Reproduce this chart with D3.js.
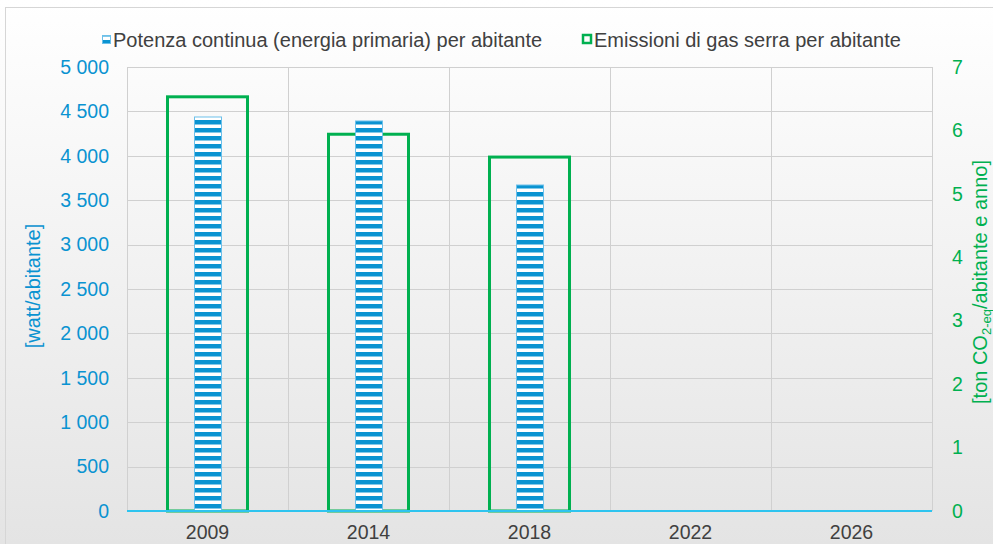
<!DOCTYPE html>
<html lang="it">
<head>
<meta charset="UTF-8">
<title>Potenza ed emissioni per abitante</title>
<script src="https://d3js.org/d3.v7.min.js"></script>
<style>
    body { margin: 0; background: #fff; }
    svg { display: block; font-family: "Liberation Sans", Arial, sans-serif; }
</style>
</head>
<body>
<script>
var years = ["2009", "2014", "2018", "2022", "2026"];
var potenza = [4437, 4392, 3671, null, null];      // watt/abitante
var emissioni = [6.53, 5.94, 5.58, null, null];     // ton CO2eq/abitante e anno
var leftTicks = [0, 500, 1000, 1500, 2000, 2500, 3000, 3500, 4000, 4500, 5000];
var rightTicks = [0, 1, 2, 3, 4, 5, 6, 7];

var w = 993, h = 544;
var m = { top: 67, right: 61, bottom: 33, left: 127 };
var blue = "#0a93d1", green = "#00b050";
var fs = 19.5;

var svg = d3.select("body").append("svg")
    .attr("width", w)
    .attr("height", h);

var defs = svg.append("defs");
var grad = defs.append("linearGradient")
    .attr("id", "bg").attr("x1", 0).attr("y1", 0).attr("x2", 0).attr("y2", 1);
grad.append("stop").attr("offset", "0%").attr("stop-color", "#ffffff");
grad.append("stop").attr("offset", "100%").attr("stop-color", "#e4e4e4");

var pat = defs.append("pattern")
    .attr("id", "stripes")
    .attr("patternUnits", "userSpaceOnUse")
    .attr("width", 8).attr("height", 8);
pat.append("rect").attr("width", 8).attr("height", 8).attr("fill", "#ffffff");
pat.append("rect").attr("y", 0).attr("width", 8).attr("height", 4.5).attr("fill", blue);

// background + chart border
svg.append("rect").attr("width", w).attr("height", h).attr("fill", "url(#bg)");
svg.append("rect")
    .attr("x", 5.5).attr("y", 7.5)
    .attr("width", w).attr("height", h)
    .attr("fill", "none").attr("stroke", "#d6d6d6");

var x = d3.scaleBand()
    .domain(years)
    .range([m.left, w - m.right]);

var yL = d3.scaleLinear().domain([0, 5000]).range([h - m.bottom, m.top]);
var yR = d3.scaleLinear().domain([0, 7]).range([h - m.bottom, m.top]);

// gridlines
svg.append("g")
    .selectAll("line")
    .data(leftTicks.slice(1))
    .enter().append("line")
    .attr("x1", m.left).attr("x2", w - m.right)
    .attr("y1", function(d) { return Math.round(yL(d)) + 0.5; })
    .attr("y2", function(d) { return Math.round(yL(d)) + 0.5; })
    .attr("stroke", "#d0d0d0");

var vlines = [m.left].concat(years.map(function(d) { return x(d) + x.bandwidth(); }));
svg.append("g")
    .selectAll("line")
    .data(vlines)
    .enter().append("line")
    .attr("x1", function(d) { return Math.round(d) + 0.5; })
    .attr("x2", function(d) { return Math.round(d) + 0.5; })
    .attr("y1", m.top).attr("y2", h - m.bottom)
    .attr("stroke", "#d0d0d0");

// green outlined bars (emissions)
var gw = 80;
svg.append("g")
    .selectAll("rect")
    .data(years.filter(function(d, i) { return emissioni[i] != null; }))
    .enter().append("rect")
    .attr("x", function(d) { return x(d) + x.bandwidth() / 2 - gw / 2; })
    .attr("width", gw)
    .attr("y", function(d) { return yR(emissioni[years.indexOf(d)]); })
    .attr("height", function(d) { return yR(0) - yR(emissioni[years.indexOf(d)]); })
    .attr("fill", "none")
    .attr("stroke", green)
    .attr("stroke-width", 3);

// striped blue bars (power)
var bw = 27;
svg.append("g")
    .selectAll("rect")
    .data(years.filter(function(d, i) { return potenza[i] != null; }))
    .enter().append("rect")
    .attr("x", function(d) { return x(d) + x.bandwidth() / 2 - bw / 2 + 0.5; })
    .attr("width", bw)
    .attr("y", function(d) { return yL(potenza[years.indexOf(d)]); })
    .attr("height", function(d) { return yL(0) - yL(potenza[years.indexOf(d)]); })
    .attr("fill", "url(#stripes)")
    .attr("stroke", "#6cc0ea")
    .attr("stroke-width", 1);

// baseline
svg.append("line")
    .attr("x1", m.left).attr("x2", w - m.right)
    .attr("y1", yL(0)).attr("y2", yL(0))
    .attr("stroke", "#2ec4ef").attr("stroke-width", 2);

// axes
var axL = svg.append("g")
    .attr("transform", "translate(" + (m.left - 15) + ",0)")
    .call(d3.axisLeft(yL).tickValues(leftTicks).tickSize(0)
        .tickFormat(function(d) { return d3.format(",")(d).replace(",", " "); }));
axL.select(".domain").remove();
axL.selectAll("text").attr("fill", blue).attr("font-size", fs)
    .attr("font-family", "Liberation Sans, Arial, sans-serif");

var axR = svg.append("g")
    .attr("transform", "translate(" + (w - m.right + 17) + ",0)")
    .call(d3.axisRight(yR).tickValues(rightTicks).tickSize(0).tickFormat(d3.format("d")));
axR.select(".domain").remove();
axR.selectAll("text").attr("fill", green).attr("font-size", fs)
    .attr("font-family", "Liberation Sans, Arial, sans-serif");

var axB = svg.append("g")
    .attr("transform", "translate(0," + (h - m.bottom + 11) + ")")
    .call(d3.axisBottom(x).tickSize(0));
axB.select(".domain").remove();
axB.selectAll("text").attr("fill", "#404040").attr("font-size", fs)
    .attr("font-family", "Liberation Sans, Arial, sans-serif");

// axis titles
svg.append("text")
    .attr("transform", "translate(40,286) rotate(-90)")
    .attr("text-anchor", "middle")
    .attr("fill", blue)
    .attr("font-size", 20)
    .text("[watt/abitante]");

var rt = svg.append("text")
    .attr("transform", "translate(987,282) rotate(-90)")
    .attr("text-anchor", "middle")
    .attr("fill", green)
    .attr("font-size", 20);
rt.append("tspan").text("[ton CO");
rt.append("tspan").attr("font-size", 13).attr("dy", 4).text("2-eq");
rt.append("tspan").attr("dy", -4).text("/abitante e anno]");

// legend
var lg = svg.append("g").attr("font-size", 20).attr("fill", "#404040");
lg.append("rect").attr("x", 102.5).attr("y", 35.5).attr("width", 8).attr("height", 8)
    .attr("fill", "url(#stripes)").attr("stroke", "#6cc0ea");
lg.append("text").attr("x", 113).attr("y", 47)
    .text("Potenza continua (energia primaria) per abitante");
lg.append("rect").attr("x", 583).attr("y", 35).attr("width", 8).attr("height", 8)
    .attr("fill", "none").attr("stroke", green).attr("stroke-width", 2.5);
lg.append("text").attr("x", 594).attr("y", 47)
    .text("Emissioni di gas serra per abitante");
</script>
</body>
</html>
